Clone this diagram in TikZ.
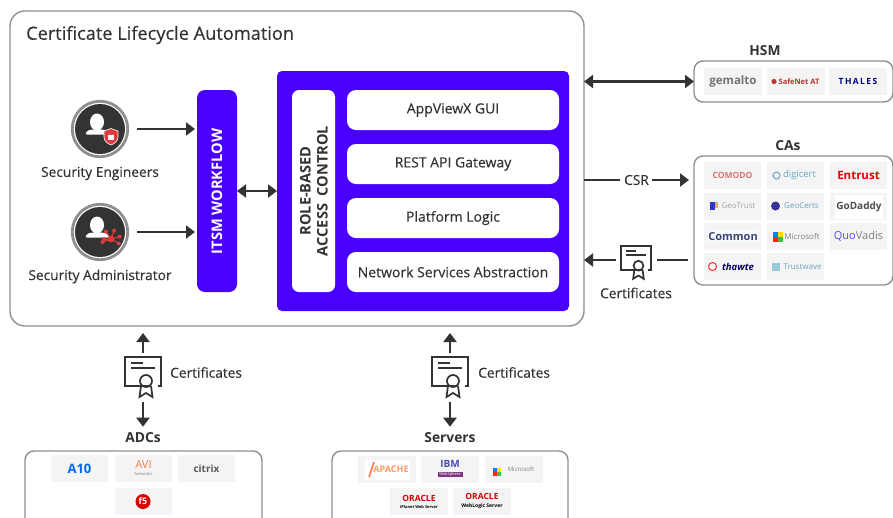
\documentclass[tikz,border=0pt]{standalone}
\usepackage{fontspec}
\setmainfont{Open Sans}
\newfontfamily\midfont[FakeBold=0.25]{Open Sans}
\usetikzlibrary{arrows.meta}
\definecolor{ink}{HTML}{333333}
\definecolor{edge}{HTML}{8F8F8F}
\definecolor{vio}{HTML}{4A00FF}
\definecolor{tile}{HTML}{F4F4F4}
\definecolor{shield}{HTML}{E03A3A}
\tikzset{
  panel/.style={draw=edge,line width=1.4pt,rounded corners=#1,fill=white,inner sep=0,outer sep=0},
  panel/.default=9pt,
  solidvio/.style={fill=vio,rounded corners=#1,inner sep=0,outer sep=0},
  solidvio/.default=8pt,
  whitebar/.style={fill=white,rounded corners=9pt,inner sep=0,outer sep=0,text=ink,font=\midfont\fontsize{14}{16}\selectfont},
  lab/.style={text=ink,font=\midfont\fontsize{13.75}{16}\selectfont,inner sep=0},
  head/.style={text=ink,font=\fontsize{13.8}{16}\selectfont\bfseries,inner sep=0},
  logobox/.style={fill=tile,minimum width=57pt,minimum height=27pt,inner sep=0,outer sep=0,font=\fontsize{8}{9}\selectfont},
  conn/.style={draw=ink,line width=2.8pt,-{Triangle[length=9pt,width=13pt]}},
  conn2/.style={draw=ink,line width=2.8pt,{Triangle[length=9pt,width=13pt]}-{Triangle[length=9pt,width=13pt]}},
  plainline/.style={draw=ink,line width=2.8pt},
  pics/certicon/.style={code={
    \draw[ink,line width=2pt] (7,29) -- (-18,29) -- (-18,0) -- (18,0) -- (18,29) -- (15,29);
    \draw[ink,line width=1.5pt] (-12,6) -- (0,6);
    \draw[ink,line width=1.5pt] (-12,11) -- (12,11);
    \draw[ink,line width=1.7pt] (3,24) circle (6);
    \draw[ink,line width=1.7pt] (-2,29) -- (-3.5,40) -- (3,36) -- (9.5,40) -- (8,29);
  }},
  pics/personicon/.style={code={
    \fill[white] (-3,-7) ellipse (7 and 8.5);
    \fill[white,rounded corners=2pt] (-15,5.5) .. controls (-12,0) and (-8,1) .. (-5,0) -- (0,0) .. controls (3,1) and (7,0) .. (10,5.5) -- cycle;
  }},
}
\begin{document}
\begin{tikzpicture}[x=1pt,y=-1pt]
\useasboundingbox (0,0) rectangle (893,517);
\clip (0,0) rectangle (893,517);
\fill[white] (0,0) rectangle (893,517);

% main frame
\node[panel=15pt,minimum width=574pt,minimum height=315pt] (main) at (297,168.5) {};
\node[anchor=west,text=ink,inner sep=0,font=\midfont\fontsize{18.2}{22}\selectfont] (title) at (26,35) {Certificate Lifecycle Automation};

% people
\node[circle,draw=edge,line width=2.8pt,fill=white,minimum size=55.5pt,inner sep=0,outer sep=0] (eng) at (100,129) {};
\fill[ink] (eng.center) circle (25);
\pic at (100,129) {personicon};
\fill[shield,draw=white,line width=.6pt] (104,131) -- (111,128.5) -- (118,131) -- (118,137) .. controls (118,141) and (114,144) .. (111,145) .. controls (108,144) and (104,141) .. (104,137) -- cycle;
\draw[white,line width=1pt] (109.2,135) arc (180:0:1.8);
\fill[white] (108.3,135.2) rectangle (113.7,140);
\node[lab] (englab) at (100,173.5) {Security Engineers};

\node[circle,draw=edge,line width=2.8pt,fill=white,minimum size=55.5pt,inner sep=0,outer sep=0] (adm) at (100,232) {};
\fill[ink] (adm.center) circle (25);
\pic at (100,232) {personicon};
\foreach \a/\r in {30/9,-15/9,-70/9,-125/9,-180/7,160/9}{
  \draw[shield,line width=1pt] (111,239) -- ++(\a:\r);
  \fill[shield] (111,239) ++(\a:\r) circle (2);
}
\fill[shield] (111,239) circle (3.4);
\node[lab] (admlab) at (100,276.5) {Security Administrator};

% ITSM
\node[solidvio,minimum width=40pt,minimum height=202pt] (itsm) at (217,191) {};
\node[rotate=90,text=white,inner sep=0,font=\fontsize{14.6}{17}\selectfont\bfseries] (itsmt) at (217,191.5) {ITSM WORKFLOW};

% platform
\node[solidvio=5pt,minimum width=292pt,minimum height=240pt] (plat) at (423,191) {};
\node[whitebar,minimum width=43pt,minimum height=202pt,rounded corners=7pt] (rbac) at (313.5,191) {};
\node[rotate=90,text=ink,inner sep=0,align=center,font=\fontsize{14.6}{17}\selectfont\bfseries] (rbact) at (314,191) {ROLE-BASED\\ACCESS\ \ CONTROL};
\node[whitebar,minimum width=212pt,minimum height=40pt] (gui) at (453,110) {AppViewX GUI};
\node[whitebar,minimum width=212pt,minimum height=40pt] (api) at (453,164) {REST API Gateway};
\node[whitebar,minimum width=212pt,minimum height=40pt] (logic) at (453,218) {Platform Logic};
\node[whitebar,minimum width=212pt,minimum height=40pt] (net) at (453,272) {Network Services Abstraction};

% HSM
\node[head] (hsmt) at (765,51) {HSM};
\node[panel,minimum width=199pt,minimum height=41pt] (hsm) at (793.5,81.5) {};
\node[logobox,minimum width=58pt] (l1) at (733,81.5) {\fontsize{11.5}{13}\selectfont\bfseries\color{black!55}gemalto};
\node[logobox,minimum width=58pt] (l2) at (796,81.5) {\hspace*{6pt}\fontsize{7.5}{9}\selectfont\bfseries\color{shield!85!black}SafeNet AT};
\fill[shield!85!black] ([xshift=-22pt]l2.center) circle (2.6);
\node[logobox,minimum width=58pt] (l3) at (858,81.5) {\fontsize{8.5}{9}\selectfont\bfseries\color{blue!50!black}T\,H\,A\,L\,E\,S};

% CAs
\node[head] (cast) at (788,146) {CAs};
\node[panel,minimum width=199pt,minimum height=129pt] (cas) at (793.5,220.5) {};
\node[logobox] (c1) at (732.5,175.5) {\fontsize{8.5}{9}\selectfont\bfseries\color{red!55!gray!70}COMODO};
\node[logobox] (c2) at (795.5,175.5) {\hspace*{8pt}\fontsize{9.5}{11}\selectfont\color{cyan!45!gray}digicert};
\draw[cyan!45!gray,line width=1pt] ([xshift=-19pt]c2.center) circle (3.5);
\node[logobox] (c3) at (858.5,175.5) {\fontsize{11.5}{12}\selectfont\bfseries\color{red!90!black}Entrust};
\node[logobox] (c4) at (732.5,206) {\hspace*{12pt}\fontsize{8}{10}\selectfont\color{gray!70}GeoTrust};
\fill[blue!60!gray] ([xshift=-23pt,yshift=-4pt]c4.center) rectangle ([xshift=-18pt,yshift=4pt]c4.center);
\fill[orange!70] ([xshift=-18pt,yshift=-2pt]c4.center) rectangle ([xshift=-15pt,yshift=4pt]c4.center);
\node[logobox] (c5) at (795.5,206) {\hspace*{12pt}\fontsize{8}{9}\selectfont\color{cyan!45!gray}GeoCerts};
\fill[blue!50!black!80] ([xshift=-20pt]c5.center) circle (4.5);
\node[logobox] (c6) at (858.5,206) {};
\node[fill=white,minimum width=48pt,minimum height=24pt,inner sep=0,font=\fontsize{10}{11}\selectfont\bfseries,text=black!70] (c6t) at (859,207) {GoDaddy};
\node[logobox] (c7) at (732.5,236.5) {};
\node[fill=white!60!cyan!10,minimum width=50pt,minimum height=11pt,inner sep=0,font=\fontsize{11}{12}\selectfont\bfseries,text=blue!30!black!75] (c7t) at (733,236.5) {Common};
\node[logobox] (c8) at (795.5,236.5) {\hspace*{13pt}\fontsize{8}{9}\selectfont\color{gray}Microsoft};
\fill[red!70!orange] ([xshift=-23pt,yshift=-5pt]c8.center) rectangle ([xshift=-18pt,yshift=0pt]c8.center);
\fill[green!50!gray] ([xshift=-18pt,yshift=-5pt]c8.center) rectangle ([xshift=-13pt,yshift=0pt]c8.center);
\fill[blue!50!cyan] ([xshift=-23pt,yshift=0pt]c8.center) rectangle ([xshift=-18pt,yshift=5pt]c8.center);
\fill[yellow!80!orange] ([xshift=-18pt,yshift=0pt]c8.center) rectangle ([xshift=-13pt,yshift=5pt]c8.center);
\node[logobox] (c9) at (858.5,236.5) {\fontsize{11}{12}\selectfont\color{blue!70!white}Quo\color{gray}Vadis};
\node[logobox] (c10) at (732.5,266.5) {\hspace*{11pt}\fontsize{9.5}{10}\selectfont\itshape\bfseries\color{blue!40!black}thawte};
\draw[red!70!pink,line width=1.1pt,fill=white] ([xshift=-20pt]c10.center) circle (4);
\node[logobox] (c11) at (795.5,266.5) {\hspace*{14pt}\fontsize{8}{10}\selectfont\color{cyan!40!gray}Trustwave};
\fill[gray!50!cyan!60] ([xshift=-24pt,yshift=-4pt]c11.center) rectangle ([xshift=-16pt,yshift=4pt]c11.center);

% ADCs
\node[head] (adct) at (143,438) {ADCs};
\node[panel,minimum width=237pt,minimum height=90pt] (adc) at (143.5,496) {};
\node[logobox] (a1) at (79.5,468.5) {\fontsize{13}{14}\selectfont\bfseries\color{blue!60!cyan}A10};
\node[logobox,align=center] (a2) at (143.5,468.5) {\fontsize{11}{10}\selectfont\color{red!50!orange!70!white}AVI\\[-2pt]\fontsize{4}{5}\selectfont\color{gray}Networks};
\node[logobox] (a3) at (206.5,468.5) {\fontsize{10}{11}\selectfont\bfseries\color{black!65}citrix};
\node[logobox] (a4) at (143.5,501.5) {};
\node[circle,fill=red!85!black,text=white,inner sep=0,minimum size=15pt,font=\fontsize{9}{10}\selectfont\bfseries] (a4t) at (143,501.5) {f5};

% Servers
\node[head] (srvt) at (450,438) {Servers};
\node[panel,minimum width=236pt,minimum height=90pt] (srv) at (450,496) {};
\node[logobox,minimum width=58pt] (s1) at (387,469.5) {};
\node[fill=white,minimum width=45pt,minimum height=20pt,inner sep=0,font=\fontsize{9}{10}\selectfont\bfseries,text=red!35!orange!60!white] (s1t) at (387,469.5) {\hspace*{8pt}APACHE};
\draw[red!50!orange!70!white,line width=1.6pt] (369,477) -- (374,462);
\node[logobox,minimum width=58pt,align=center] (s2) at (450,469.5) {};
\node[font=\fontsize{10}{11}\selectfont\bfseries,text=blue!40!gray,inner sep=0] (s2t) at (450,464) {IBM};
\node[fill=violet!60!gray,text=white,font=\fontsize{4}{5}\selectfont,minimum width=25pt,minimum height=5pt,inner sep=0] (s2b) at (450,474) {WebSphere};
\node[logobox,minimum width=58pt] (s3) at (514,469.5) {\hspace*{14pt}\fontsize{6}{7}\selectfont\color{gray}Microsoft};
\fill[red!70!orange] ([xshift=-21pt,yshift=-6pt]s3.center) rectangle ([xshift=-17pt,yshift=-2pt]s3.center);
\fill[green!50!gray] ([xshift=-17pt,yshift=-6pt]s3.center) rectangle ([xshift=-13pt,yshift=-2pt]s3.center);
\fill[blue!50!cyan] ([xshift=-21pt,yshift=-2pt]s3.center) rectangle ([xshift=-17pt,yshift=2pt]s3.center);
\fill[yellow!80!orange] ([xshift=-17pt,yshift=-2pt]s3.center) rectangle ([xshift=-13pt,yshift=2pt]s3.center);
\node[logobox,minimum width=58pt,align=center,text=black] (s4) at (419,501.5) {\fontsize{8.5}{9}\selectfont\bfseries\color{red!85!black}ORACLE\\[-2pt]\fontsize{4}{5}\selectfont\bfseries iPlanet Web Server};
\node[logobox,minimum width=58pt,align=center,text=black] (s5) at (482,501.5) {\fontsize{8.5}{9}\selectfont\bfseries\color{red!85!black}ORACLE\\[-1pt]\fontsize{5}{6}\selectfont\bfseries WebLogic Server};

% certificates
\pic at (143,357) {certicon};
\pic at (450,357) {certicon};
\pic[scale=0.82] at (636,246) {certicon};
\coordinate (cadc) at (143,357);
\coordinate (cadcb) at (143,402);
\coordinate (csrv) at (450,357);
\coordinate (csrvb) at (450,402);
\coordinate (crt) at (616,260);
\coordinate (crtr) at (657,260);
\node[lab,anchor=west] (cl1) at (170,372.5) {Certificates};
\node[lab,anchor=west] (cl2) at (478,372.5) {Certificates};
\node[lab] (cl3) at (636,293) {Certificates};
\node[lab] (csr) at (636.5,180) {CSR};

% connectors
\draw[conn,shorten <=9pt,shorten >=2pt] (eng.east) -- (eng.east -| itsm.west);
\draw[conn,shorten <=9pt,shorten >=2pt] (adm.east) -- (adm.east -| itsm.west);
\draw[conn2] (itsm.east) -- (plat.west);
\draw[conn2] (main.east |- hsm.west) -- (hsm.west);
\draw[plainline] (main.east |- csr.west) -- ([xshift=-4pt]csr.west);
\draw[conn,shorten >=5pt] ([xshift=3pt]csr.east) -- (csr.east -| cas.west);
\draw[conn] (crt) -- (crt -| main.east);
\draw[plainline,shorten >=6pt] (crtr) -- (crtr -| cas.west);
\draw[conn,shorten <=4pt,shorten >=7pt] (cadc) -- (cadc |- main.south);
\draw[conn,shorten >=6pt] (cadcb) -- (adct.north);
\draw[conn,shorten <=4pt,shorten >=7pt] (csrv) -- (csrv |- main.south);
\draw[conn,shorten >=6pt] (csrvb) -- (srvt.north);
\end{tikzpicture}
\end{document}
